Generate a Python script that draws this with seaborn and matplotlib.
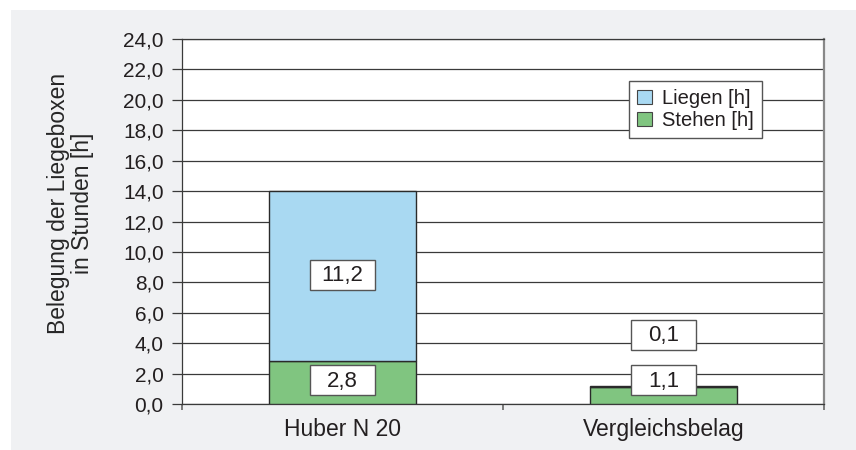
import matplotlib
matplotlib.use("Agg")
import matplotlib.pyplot as plt
import seaborn as sns
import pandas as pd
from matplotlib.patches import Rectangle, Patch
from matplotlib.offsetbox import DrawingArea, AnnotationBbox
from matplotlib.text import Text

# ---- data ----
categories = ["Huber N 20", "Vergleichsbelag"]
stehen = [2.8, 1.1]
liegen = [11.2, 0.1]
series_names = ["Liegen [h]", "Stehen [h]"]
y_ticks = [0, 2, 4, 6, 8, 10, 12, 14, 16, 18, 20, 22, 24]
y_label = "Belegung der Liegeboxen\nin Stunden [h]"

col_liegen = "#a9d9f2"
col_stehen = "#80c580"
bg = "#f0f1f3"
dark = "#2a2a2a"
FS_TICK = 15
FS_BIG = 16.5
FS_VAL = 16
FS_LEG = 14.5

sns.set_style("white")
plt.rcParams["font.family"] = ["Liberation Sans", "DejaVu Sans"]
plt.rcParams["text.color"] = "#231f20"
plt.rcParams["xtick.color"] = "#231f20"
plt.rcParams["ytick.color"] = "#231f20"

df = pd.DataFrame({"cat": categories, "stehen": stehen, "liegen": liegen})

fig = plt.figure(figsize=(8.56, 4.5), dpi=100, facecolor="white")
fig.patches.append(Rectangle((11 / 856, 0), 1 - 11 / 856, 440 / 450,
                             transform=fig.transFigure, facecolor=bg,
                             edgecolor="none", zorder=-10))
ax = fig.add_axes([182 / 856, 46 / 450, 642 / 856, 365 / 450])
ax.set_facecolor("white")

sns.barplot(data=df, x="cat", y="stehen", color=col_stehen, width=0.46,
            edgecolor=dark, linewidth=1.0, ax=ax, saturation=1, zorder=3)
sns.barplot(data=df, x="cat", y="liegen", color=col_liegen, width=0.46,
            edgecolor=dark, linewidth=1.0, ax=ax, saturation=1, zorder=3,
            bottom=df["stehen"])

ax.set_ylim(0, 24)
ax.set_xlim(-0.5, 1.5)
ax.set_yticks(y_ticks)
ax.set_yticklabels([f"{v:.1f}".replace(".", ",") for v in y_ticks], fontsize=FS_TICK)
ax.yaxis.grid(True, color="#3a3a3a", linewidth=0.9, zorder=0)
ax.set_axisbelow(True)
ax.tick_params(axis="y", direction="out", length=7.2, width=0.9,
               color="#3a3a3a", pad=6, left=True)
ax.set_xticks([0, 1])
ax.set_xticklabels(categories, fontsize=FS_BIG)
ax.tick_params(axis="x", length=0, pad=10)
ax.set_xticks([-0.5, 0.5, 1.5], minor=True)
ax.tick_params(axis="x", which="minor", direction="out", length=4.5,
               width=1.2, color="#666666", bottom=True)
ax.set_xlabel("")
ax.set_ylabel(y_label, fontsize=FS_BIG, linespacing=1.05)
ax.yaxis.set_label_coords(-0.137, 0.55)

for side in ["left", "top", "bottom"]:
    ax.spines[side].set_color("#3a3a3a")
    ax.spines[side].set_linewidth(0.9)
ax.spines["right"].set_color("#888888")
ax.spines["right"].set_linewidth(1.6)

# value labels in fixed-size boxes
def label_box(x, y, txt):
    da = DrawingArea(46.8, 21.6, 0, 0)
    t = Text(23.4, 10.3, txt, ha="center", va="center", fontsize=FS_VAL,
             family=["Liberation Sans", "DejaVu Sans"], color="#231f20")
    da.add_artist(t)
    ab = AnnotationBbox(da, (x, y), xycoords="data", frameon=True, pad=0,
                        box_alignment=(0.5, 0.5),
                        bboxprops=dict(edgecolor="#555555", facecolor="white",
                                       linewidth=1.0, boxstyle="square,pad=0"),
                        zorder=5)
    ax.add_artist(ab)

fmt = lambda v: f"{v:.1f}".replace(".", ",")
for i, (s, l) in enumerate(zip(stehen, liegen)):
    ys = max(s / 2, 1.45)
    label_box(i, ys + 0.1, fmt(s))
    yl = s + l / 2 if l > 1 else ys + 3.0
    label_box(i, yl + 0.1, fmt(l))

handles = [Patch(facecolor=col_liegen, edgecolor="#444444", linewidth=0.8),
           Patch(facecolor=col_stehen, edgecolor="#444444", linewidth=0.8)]
leg = ax.legend(handles, series_names, loc="upper left",
                bbox_to_anchor=(0.696, 0.885), borderaxespad=0, fontsize=FS_LEG,
                frameon=True, fancybox=False, framealpha=1,
                edgecolor="#555555", handlelength=0.75, handleheight=0.75,
                handletextpad=0.5, labelspacing=0.15, borderpad=0.4)
leg.get_frame().set_linewidth(1.0)
leg.set_zorder(6)

fig.savefig("out.png", dpi=100, facecolor="white")
